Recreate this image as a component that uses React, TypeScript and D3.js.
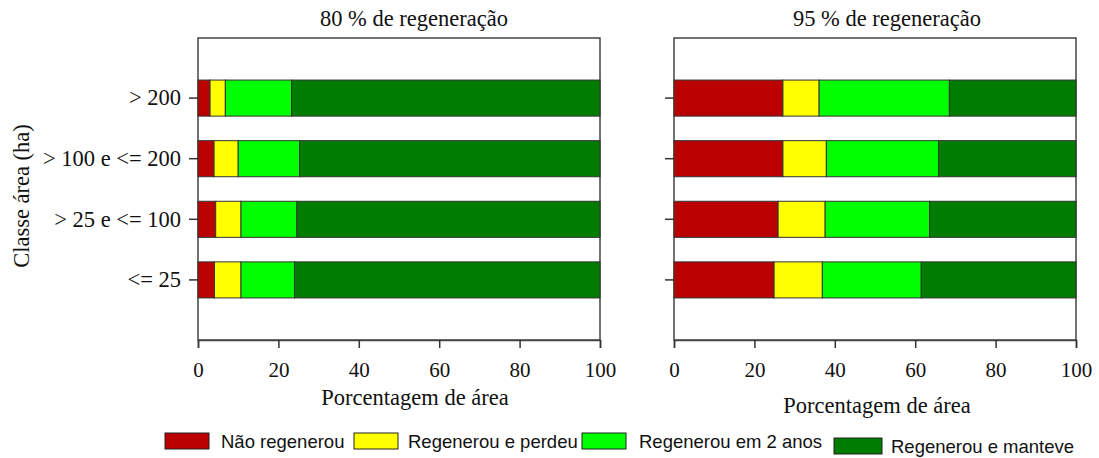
import React, { useEffect, useRef } from "react";
import * as d3 from "d3";

// Area classes, top to bottom
const categories = ["> 200", "> 100 e <= 200", "> 25 e <= 100", "<= 25"];

const seriesNames = [
  "Não regenerou",
  "Regenerou e perdeu",
  "Regenerou em 2 anos",
  "Regenerou e manteve",
];

// 80 % de regeneração (segment widths, % of area)
const naoRegenerou80 = [3.0, 4.0, 4.4, 4.1];
const regenerouPerdeu80 = [3.8, 6.0, 6.3, 6.6];
const regenerou2Anos80 = [16.5, 15.3, 13.9, 13.3];
const regenerouManteve80 = [76.7, 74.7, 75.4, 76.0];

// 95 % de regeneração
const naoRegenerou95 = [27.1, 27.1, 25.9, 24.9];
const regenerouPerdeu95 = [9.0, 10.8, 11.7, 12.0];
const regenerou2Anos95 = [32.4, 27.9, 26.0, 24.6];
const regenerouManteve95 = [31.5, 34.2, 36.4, 38.5];

const xTicks = [0, 20, 40, 60, 80, 100];

const colors = ["#bb0000", "#ffff00", "#00ff00", "#007c00"];

const serif = "'Liberation Serif', 'Times New Roman', serif";
const sans = "'Liberation Sans', Arial, sans-serif";

type Panel = {
  title: string;
  series: number[][];
  left: number;
  titleX: number;
  xTitleX: number;
  xTitleY: number;
  showLabels: boolean;
};

const panels: Panel[] = [
  {
    title: "80 % de regeneração",
    series: [naoRegenerou80, regenerouPerdeu80, regenerou2Anos80, regenerouManteve80],
    left: 198,
    titleX: 414,
    xTitleX: 415,
    xTitleY: 405,
    showLabels: true,
  },
  {
    title: "95 % de regeneração",
    series: [naoRegenerou95, regenerouPerdeu95, regenerou2Anos95, regenerouManteve95],
    left: 674,
    titleX: 887,
    xTitleX: 877,
    xTitleY: 413,
    showLabels: false,
  },
];

export default function App() {
  const ref = useRef<SVGSVGElement>(null);

  useEffect(() => {
    const svg = d3.select(ref.current);
    svg.selectAll("*").remove();

    const top = 38,
      bottom = 340,
      plotWidth = 402;

    // Category scale, spaced so bars sit on the 1..4 positions of a 0..5 axis
    const y = d3
      .scaleBand()
      .domain(categories)
      .range([top, bottom])
      .paddingInner(0.405)
      .paddingOuter(0.694);

    panels.forEach((p) => {
      const x = d3.scaleLinear().domain([0, 100]).range([p.left, p.left + plotWidth]);
      const g = svg.append("g");

      // Stack rows
      const rows = categories.map((c, i) => {
        const row: any = { key: c };
        seriesNames.forEach((s, j) => (row[s] = p.series[j][i]));
        return row;
      });
      const stacked = d3.stack().keys(seriesNames)(rows);

      // Frame
      g.append("rect")
        .attr("x", x(0))
        .attr("y", top)
        .attr("width", x(100) - x(0))
        .attr("height", bottom - top)
        .attr("fill", "white")
        .attr("stroke", "#444")
        .attr("stroke-width", 1.5);

      stacked.forEach((layer, j) => {
        g.append("g")
          .selectAll("rect")
          .data(layer)
          .enter()
          .append("rect")
          .attr("x", (d) => x(d[0]))
          .attr("y", (d) => y((d.data as any).key) as number)
          .attr("width", (d) => x(d[1]) - x(d[0]))
          .attr("height", y.bandwidth())
          .attr("fill", colors[j])
          .attr("stroke", "#333")
          .attr("stroke-width", 1);
      });

      // x axis
      const xAxis = g
        .append("g")
        .attr("transform", `translate(0, ${bottom})`)
        .call(d3.axisBottom(x).tickValues(xTicks).tickSize(8).tickPadding(14));
      xAxis.select(".domain").attr("stroke", "#444").attr("stroke-width", 1.5);
      xAxis.selectAll(".tick line").attr("stroke", "#333").attr("stroke-width", 1.5);
      xAxis
        .selectAll(".tick text")
        .attr("font-family", serif)
        .attr("font-size", 21)
        .attr("fill", "#111");

      // y axis
      const yAxis = g
        .append("g")
        .attr("transform", `translate(${x(0)}, 0)`)
        .call(
          d3
            .axisLeft(y)
            .tickSize(9)
            .tickPadding(8)
            .tickFormat((d) => (p.showLabels ? (d as string) : ""))
        );
      yAxis.select(".domain").remove();
      yAxis.selectAll(".tick line").attr("stroke", "#333").attr("stroke-width", 1.5);
      yAxis
        .selectAll(".tick text")
        .attr("font-family", serif)
        .attr("font-size", 22.5)
        .attr("fill", "#111");

      // Panel title
      g.append("text")
        .attr("x", p.titleX)
        .attr("y", 26)
        .attr("text-anchor", "middle")
        .attr("font-family", serif)
        .attr("font-size", 22.5)
        .attr("fill", "#111")
        .text(p.title);

      // x axis title
      g.append("text")
        .attr("x", p.xTitleX)
        .attr("y", p.xTitleY)
        .attr("text-anchor", "middle")
        .attr("font-family", serif)
        .attr("font-size", 22.5)
        .attr("fill", "#111")
        .text("Porcentagem de área");
    });

    // y axis title
    svg
      .append("text")
      .attr("transform", "translate(29, 196) rotate(-90)")
      .attr("text-anchor", "middle")
      .attr("font-family", serif)
      .attr("font-size", 22.5)
      .attr("fill", "#111")
      .text("Classe área (ha)");

    // Legend
    const legendX = [165, 354, 582, 834];
    const legendY = [441, 441, 441, 446];
    const legend = svg
      .selectAll(".legend")
      .data(seriesNames)
      .enter()
      .append("g")
      .attr("transform", (d, i) => `translate(${legendX[i]}, ${legendY[i]})`);

    legend
      .append("rect")
      .attr("x", 0)
      .attr("y", -8)
      .attr("width", (d, i) => (i === 3 ? 48 : 44))
      .attr("height", 16)
      .attr("fill", (d, i) => colors[i])
      .attr("stroke", "#222")
      .attr("stroke-width", 1);

    legend
      .append("text")
      .attr("x", (d, i) => (i === 3 ? 57 : [56, 54, 57][i]))
      .attr("y", 6.5)
      .attr("font-family", sans)
      .attr("font-size", 18.5)
      .attr("fill", "#111")
      .text((d) => d);
  }, []);

  return (
    <div style={{ position: "absolute", left: 0, top: 0 }}>
      <svg ref={ref} width={1099} height={458} style={{ display: "block" }}></svg>
    </div>
  );
}
